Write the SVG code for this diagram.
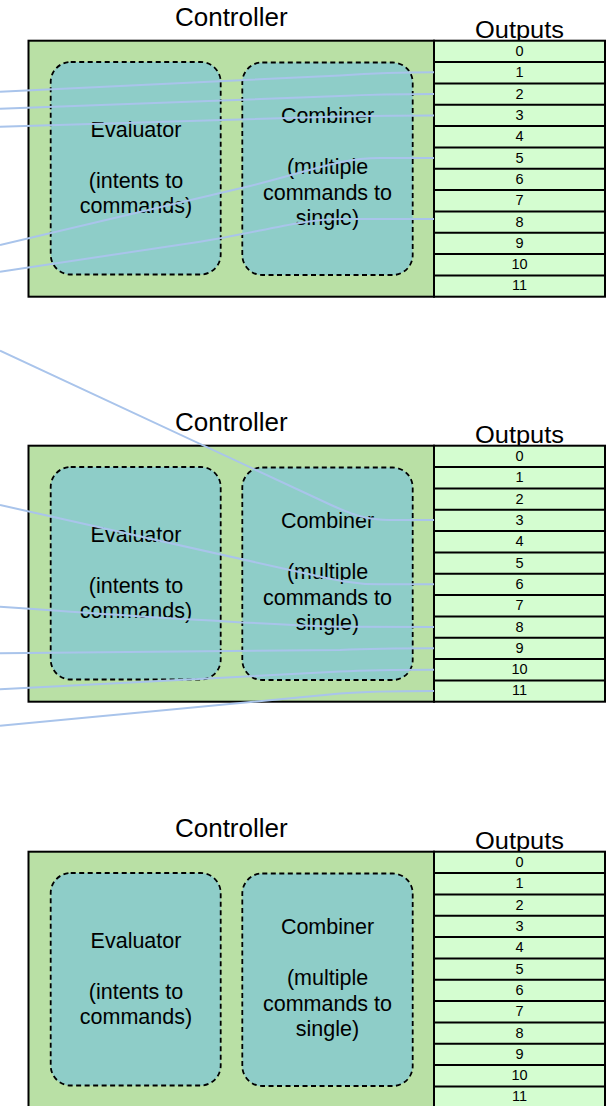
<svg xmlns="http://www.w3.org/2000/svg" width="613" height="1106" viewBox="0 0 613 1106">
<style>
  text { font-family: "Liberation Sans", Arial, sans-serif; fill: #000; text-anchor: middle; }
  .title { font-size: 26px; }
  .otitle { font-size: 23.5px; }
  .lbl { font-size: 21.5px; }
  .num { font-size: 14.5px; }
  .cluster { fill: #b9e0a5; stroke: #000; stroke-width: 2; }
  .inner { fill: #8ecdc8; stroke: #000; stroke-width: 1.8; stroke-dasharray: 5 3.5; }
  .outputs { fill: #d4fdd0; stroke: #000; stroke-width: 2; }
  .sep { stroke: #000; stroke-width: 2; }
  .edge { fill: none; stroke: #a9c4eb; stroke-width: 2; }
</style>

<g id="controller1">
  <text class="title" x="231.3" y="26">Controller</text>
  <rect class="cluster" x="28.5" y="40.7" width="405.5" height="256"/>
  <g id="evaluator1">
    <rect class="inner" x="50.7" y="62" width="170" height="212.5" rx="20"/>
    <text class="lbl" x="136" y="137.3">Evaluator</text>
    <text class="lbl" x="136" y="187.7">(intents to</text>
    <text class="lbl" x="136" y="212.7">commands)</text>
  </g>
  <g id="combiner1">
    <rect class="inner" x="242.3" y="62.5" width="170.4" height="212.5" rx="20"/>
    <text class="lbl" x="327.5" y="123.3">Combiner</text>
    <text class="lbl" x="327.5" y="174.3">(multiple</text>
    <text class="lbl" x="327.5" y="199.8">commands to</text>
    <text class="lbl" x="327.5" y="225">single)</text>
  </g>
  <g id="outputs1">
    <text class="otitle" x="519.5" y="38.3" textLength="89" lengthAdjust="spacingAndGlyphs">Outputs</text>
    <rect class="outputs" x="434" y="40.7" width="171" height="256"/>
    <path class="sep" d="M434,62H605M434,83.4H605M434,104.7H605M434,126H605M434,147.4H605M434,168.7H605M434,190H605M434,211.4H605M434,232.7H605M434,254H605M434,275.4H605"/>
    <text class="num" x="519.5" y="55.7">0</text>
    <text class="num" x="519.5" y="77.3">1</text>
    <text class="num" x="519.5" y="98.6">2</text>
    <text class="num" x="519.5" y="119.9">3</text>
    <text class="num" x="519.5" y="141.2">4</text>
    <text class="num" x="519.5" y="162.6">5</text>
    <text class="num" x="519.5" y="183.9">6</text>
    <text class="num" x="519.5" y="205.2">7</text>
    <text class="num" x="519.5" y="226.6">8</text>
    <text class="num" x="519.5" y="247.9">9</text>
    <text class="num" x="519.5" y="269.2">10</text>
    <text class="num" x="519.5" y="290.4">11</text>
  </g>
</g>

<g id="controller2">
  <text class="title" x="231.3" y="431">Controller</text>
  <rect class="cluster" x="28.5" y="445.7" width="405.5" height="256"/>
  <g id="evaluator2">
    <rect class="inner" x="50.7" y="467" width="170" height="212.5" rx="20"/>
    <text class="lbl" x="136" y="542.3">Evaluator</text>
    <text class="lbl" x="136" y="592.7">(intents to</text>
    <text class="lbl" x="136" y="617.7">commands)</text>
  </g>
  <g id="combiner2">
    <rect class="inner" x="242.3" y="467.5" width="170.4" height="212.5" rx="20"/>
    <text class="lbl" x="327.5" y="528.3">Combiner</text>
    <text class="lbl" x="327.5" y="579.3">(multiple</text>
    <text class="lbl" x="327.5" y="604.8">commands to</text>
    <text class="lbl" x="327.5" y="630">single)</text>
  </g>
  <g id="outputs2">
    <text class="otitle" x="519.5" y="443.3" textLength="89" lengthAdjust="spacingAndGlyphs">Outputs</text>
    <rect class="outputs" x="434" y="445.7" width="171" height="256"/>
    <path class="sep" d="M434,467H605M434,488.4H605M434,509.7H605M434,531H605M434,552.4H605M434,573.7H605M434,595H605M434,616.4H605M434,637.7H605M434,659H605M434,680.4H605"/>
    <text class="num" x="519.5" y="460.7">0</text>
    <text class="num" x="519.5" y="482.3">1</text>
    <text class="num" x="519.5" y="503.6">2</text>
    <text class="num" x="519.5" y="524.9">3</text>
    <text class="num" x="519.5" y="546.2">4</text>
    <text class="num" x="519.5" y="567.6">5</text>
    <text class="num" x="519.5" y="588.9">6</text>
    <text class="num" x="519.5" y="610.2">7</text>
    <text class="num" x="519.5" y="631.6">8</text>
    <text class="num" x="519.5" y="652.9">9</text>
    <text class="num" x="519.5" y="674.2">10</text>
    <text class="num" x="519.5" y="695.4">11</text>
  </g>
</g>

<g id="controller3">
  <text class="title" x="231.3" y="837">Controller</text>
  <rect class="cluster" x="28.5" y="851.7" width="405.5" height="256"/>
  <g id="evaluator3">
    <rect class="inner" x="50.7" y="873" width="170" height="212.5" rx="20"/>
    <text class="lbl" x="136" y="948.3">Evaluator</text>
    <text class="lbl" x="136" y="998.7">(intents to</text>
    <text class="lbl" x="136" y="1023.7">commands)</text>
  </g>
  <g id="combiner3">
    <rect class="inner" x="242.3" y="873.5" width="170.4" height="212.5" rx="20"/>
    <text class="lbl" x="327.5" y="934.3">Combiner</text>
    <text class="lbl" x="327.5" y="985.3">(multiple</text>
    <text class="lbl" x="327.5" y="1010.8">commands to</text>
    <text class="lbl" x="327.5" y="1036">single)</text>
  </g>
  <g id="outputs3">
    <text class="otitle" x="519.5" y="849.3" textLength="89" lengthAdjust="spacingAndGlyphs">Outputs</text>
    <rect class="outputs" x="434" y="851.7" width="171" height="256"/>
    <path class="sep" d="M434,873H605M434,894.4H605M434,915.7H605M434,937H605M434,958.4H605M434,979.7H605M434,1001H605M434,1022.4H605M434,1043.7H605M434,1065H605M434,1086.4H605"/>
    <text class="num" x="519.5" y="866.7">0</text>
    <text class="num" x="519.5" y="888.3">1</text>
    <text class="num" x="519.5" y="909.6">2</text>
    <text class="num" x="519.5" y="930.9">3</text>
    <text class="num" x="519.5" y="952.2">4</text>
    <text class="num" x="519.5" y="973.6">5</text>
    <text class="num" x="519.5" y="994.9">6</text>
    <text class="num" x="519.5" y="1016.2">7</text>
    <text class="num" x="519.5" y="1037.6">8</text>
    <text class="num" x="519.5" y="1058.9">9</text>
    <text class="num" x="519.5" y="1080.2">10</text>
    <text class="num" x="519.5" y="1101.4">11</text>
  </g>
</g>

<g id="edges">
  <path class="edge" d="M0,91.7 L340,75.5 C370,73.5 390,72.3 434,72.3"/>
  <path class="edge" d="M0,108.7 L340,96 C365,94.8 390,94 434,94"/>
  <path class="edge" d="M0,126.7 L340,116.5 C365,115.8 390,115.5 434,115.5"/>
  <path class="edge" d="M0,245 L250,186 C310,171 340,158 380,158 L434,158"/>
  <path class="edge" d="M0,271.7 L200,241.7 C260,232 300,219.5 340,219 L434,219"/>
  <path class="edge" d="M0,350.7 L330,504.5 C355,516 368,520 390,520 L434,520"/>
  <path class="edge" d="M0,505 L290,570 C330,579 350,584.3 380,584.3 L434,584.3"/>
  <path class="edge" d="M0,606.7 C60,611 160,618 220,621 C270,624 310,626.5 350,626.8 L434,627"/>
  <path class="edge" d="M0,653.3 L340,650 C370,648.6 390,648.3 434,648.3"/>
  <path class="edge" d="M0,689.3 L340,671.5 C365,670.1 390,669.7 434,669.7"/>
  <path class="edge" d="M0,725.7 L340,693.5 C365,691.5 390,691 434,691"/>
</g>
</svg>
